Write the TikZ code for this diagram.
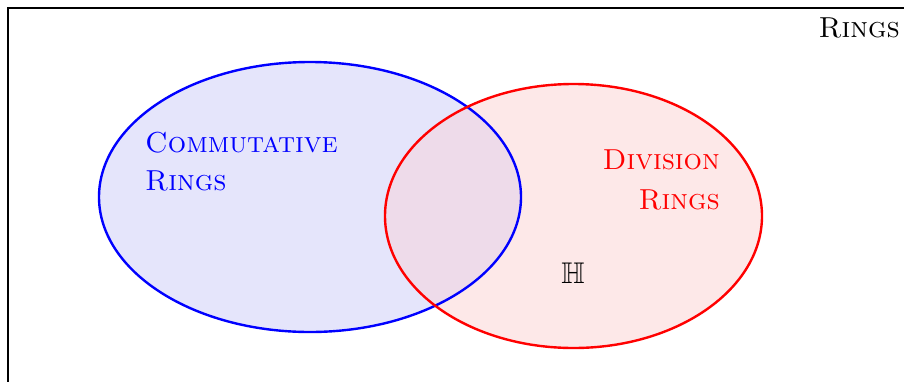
\documentclass[tikz,border=0pt]{standalone}
\usepackage{amssymb}
\definecolor{bfill}{RGB}{229,229,251}
\definecolor{rfill}{RGB}{253,232,232}
\definecolor{ofill}{RGB}{238,219,234}
\begin{document}
\begin{tikzpicture}[x=1bp,y=-1bp,
  lbl/.style={inner sep=0pt,font=\fontsize{29}{34}\selectfont\scshape},
  setb/.style={line width=2.4bp}]
\useasboundingbox (0,0) rectangle (904,381);
\fill[white] (0,0) rectangle (904,381);
\draw[line width=2.2bp] (910,8) -- (8,8) -- (8,390);
\fill[bfill] (310,197) ellipse [x radius=211, y radius=135];
\fill[rfill] (573.5,216) ellipse [x radius=188.5, y radius=132];
\begin{scope}
\clip (310,197) ellipse [x radius=211, y radius=135];
\fill[ofill] (573.5,216) ellipse [x radius=188.5, y radius=132];
\end{scope}
\draw[setb,blue] (310,197) ellipse [x radius=211, y radius=135];
\draw[setb,red] (573.5,216) ellipse [x radius=188.5, y radius=132];
\node[lbl,anchor=base east] (rings) at (900,37) {Rings};
\node[lbl,anchor=base west,text=blue] (comm1) at (145,152) {Commutative};
\node[lbl,anchor=base west,text=blue] (comm2) at (145,190) {Rings};
\node[lbl,anchor=base east,text=red] (div1) at (720,169) {Division};
\node[lbl,anchor=base east,text=red] (div2) at (720,209) {Rings};
\node[inner sep=0pt,anchor=base,font=\fontsize{30}{34}\selectfont] (quat) at (573,283) {$\mathbb{H}$};
\end{tikzpicture}
\end{document}
